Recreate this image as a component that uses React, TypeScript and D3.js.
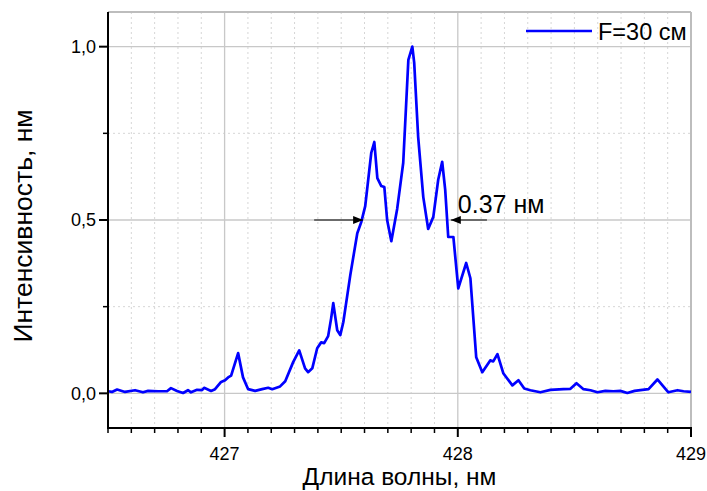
import React, { useEffect, useRef } from 'react';
import * as d3 from 'd3';

// spectrum (wavelength, nm / normalised intensity)
const wavelength = [
  426.5, 426.517, 426.539, 426.573, 426.616, 426.65, 426.672, 426.715, 426.753, 426.77,
  426.796, 426.822, 426.843, 426.856, 426.882, 426.903, 426.912, 426.942, 426.959, 426.985,
  427.002, 427.015, 427.028, 427.058, 427.079, 427.101, 427.131, 427.161, 427.187, 427.204,
  427.238, 427.26, 427.294, 427.32, 427.345, 427.358, 427.376, 427.397, 427.414, 427.427,
  427.444, 427.457, 427.466, 427.483, 427.496, 427.509, 427.539, 427.569, 427.586, 427.603,
  427.629, 427.642, 427.655, 427.672, 427.685, 427.697, 427.715, 427.74, 427.766, 427.788,
  427.805, 427.813, 427.83, 427.852, 427.873, 427.895, 427.916, 427.933, 427.946, 427.959,
  427.981, 428.002, 428.036, 428.054, 428.079, 428.105, 428.139, 428.152, 428.17, 428.195,
  428.234, 428.26, 428.285, 428.311, 428.354, 428.397, 428.453, 428.483, 428.509, 428.539,
  428.569, 428.599, 428.633, 428.667, 428.697, 428.727, 428.758, 428.783, 428.818, 428.856,
  428.903, 428.942, 428.968, 429.0,
];
const intensity = [
  0.006, 0.004, 0.011, 0.004, 0.009, 0.003, 0.007, 0.006, 0.006, 0.015,
  0.007, 0.001, 0.009, 0.003, 0.01, 0.009, 0.016, 0.007, 0.012, 0.033,
  0.038, 0.046, 0.051, 0.116, 0.046, 0.012, 0.007, 0.012, 0.016, 0.012,
  0.02, 0.035, 0.09, 0.124, 0.072, 0.061, 0.072, 0.13, 0.147, 0.145,
  0.165, 0.217, 0.26, 0.182, 0.168, 0.205, 0.341, 0.462, 0.494, 0.54,
  0.694, 0.725, 0.621, 0.598, 0.595, 0.5, 0.439, 0.532, 0.665, 0.962,
  1.0, 0.954, 0.74, 0.566, 0.474, 0.509, 0.616, 0.668, 0.587, 0.451,
  0.451, 0.303, 0.376, 0.332, 0.104, 0.061, 0.095, 0.092, 0.113, 0.058,
  0.023, 0.038, 0.014, 0.009, 0.003, 0.01, 0.012, 0.013, 0.029, 0.012,
  0.009, 0.003, 0.007, 0.006, 0.007, 0.001, 0.007, 0.009, 0.012, 0.04,
  0.003, 0.009, 0.006, 0.004,
];

const xMajor = [427, 428, 429];
const yMajor = [0, 0.5, 1.0];
const yMinor = [0.25, 0.75];
const seriesName = 'F=30 см';
const fwhmLeft = 427.594;
const fwhmWidth = 0.376;
const fwhmLabel = '0.37 нм';

const W = 707;
const H = 491;
const margin = { top: 12, right: 16, bottom: 63, left: 108 };
const FONT = '"Liberation Sans", Arial, sans-serif';

export default function App() {
  const ref = useRef<SVGSVGElement>(null);

  useEffect(() => {
    const svg = d3.select(ref.current);
    svg.selectAll('*').remove();

    const x0 = margin.left;
    const x1 = W - margin.right;
    const y0 = margin.top;
    const y1 = H - margin.bottom;

    const x = d3.scaleLinear().domain([426.5, 429]).range([x0, x1]);
    const y = d3.scaleLinear().domain([-0.1, 1.1]).range([y1, y0]);

    const xMinor = d3.range(4265, 4291).map((v) => v / 10).filter((v) => !xMajor.some((m) => Math.abs(m - v) < 1e-6));

    svg
      .append('defs')
      .append('marker')
      .attr('id', 'arrow')
      .attr('viewBox', '0 0 10 8')
      .attr('refX', 10)
      .attr('refY', 4)
      .attr('markerWidth', 13)
      .attr('markerHeight', 8)
      .attr('markerUnits', 'userSpaceOnUse')
      .attr('orient', 'auto')
      .append('path')
      .attr('d', 'M0,0L10,4L0,8Z')
      .attr('fill', '#000');

    const grid = svg.append('g');
    // minor grid, dotted
    grid
      .selectAll('line.vx')
      .data(xMinor)
      .join('line')
      .attr('x1', (d) => x(d))
      .attr('x2', (d) => x(d))
      .attr('y1', y0)
      .attr('y2', y1)
      .attr('stroke', '#d6d6d6')
      .attr('stroke-width', 1)
      .attr('stroke-dasharray', '2,3');
    grid
      .selectAll('line.hy')
      .data(yMinor)
      .join('line')
      .attr('x1', x0)
      .attr('x2', x1)
      .attr('y1', (d) => y(d))
      .attr('y2', (d) => y(d))
      .attr('stroke', '#d6d6d6')
      .attr('stroke-width', 1)
      .attr('stroke-dasharray', '2,3');
    // major grid
    const maj = svg.append('g').attr('stroke', '#c8c8c8').attr('stroke-width', 1.3);
    xMajor.forEach((v) => maj.append('line').attr('x1', x(v)).attr('x2', x(v)).attr('y1', y0).attr('y2', y1));
    yMajor.forEach((v) => maj.append('line').attr('x1', x0).attr('x2', x1).attr('y1', y(v)).attr('y2', y(v)));
    // top / right frame
    maj.append('line').attr('x1', x0).attr('x2', x1).attr('y1', y0).attr('y2', y0).attr('stroke', '#bdbdbd').attr('stroke-width', 2);
    maj.append('line').attr('x1', x1).attr('x2', x1).attr('y1', y0).attr('y2', y1).attr('stroke', '#bdbdbd').attr('stroke-width', 2);

    // spectrum
    const pts: [number, number][] = wavelength.map((w, i) => [w, intensity[i]]);
    svg
      .append('path')
      .datum(pts)
      .attr('fill', 'none')
      .attr('stroke', '#0000ff')
      .attr('stroke-width', 2.7)
      .attr('stroke-linejoin', 'round')
      .attr(
        'd',
        d3
          .line<[number, number]>()
          .x((d) => x(d[0]))
          .y((d) => y(d[1]))
      );

    // axes
    const ax = svg.append('g').attr('stroke', '#000');
    ax.append('line').attr('x1', x0).attr('x2', x0).attr('y1', y0).attr('y2', y1 + 1).attr('stroke-width', 2);
    ax.append('line').attr('x1', x0 - 1).attr('x2', x1 + 1).attr('y1', y1).attr('y2', y1).attr('stroke-width', 2);
    xMinor.forEach((v) =>
      ax.append('line').attr('x1', x(v)).attr('x2', x(v)).attr('y1', y1).attr('y2', y1 + 5).attr('stroke-width', 1.5)
    );
    xMajor.forEach((v) =>
      ax.append('line').attr('x1', x(v)).attr('x2', x(v)).attr('y1', y1).attr('y2', y1 + 9).attr('stroke-width', 2)
    );
    yMinor.forEach((v) =>
      ax.append('line').attr('x1', x0 - 5).attr('x2', x0).attr('y1', y(v)).attr('y2', y(v)).attr('stroke-width', 1.5)
    );
    yMajor.forEach((v) =>
      ax.append('line').attr('x1', x0 - 9).attr('x2', x0).attr('y1', y(v)).attr('y2', y(v)).attr('stroke-width', 2)
    );

    const txt = svg.append('g').attr('font-family', FONT).attr('fill', '#000');
    xMajor.forEach((v) =>
      txt
        .append('text')
        .attr('x', x(v))
        .attr('y', y1 + 32)
        .attr('text-anchor', 'middle')
        .attr('font-size', 18)
        .text(d3.format('d')(v))
    );
    yMajor.forEach((v) =>
      txt
        .append('text')
        .attr('x', x0 - 12)
        .attr('y', y(v))
        .attr('dy', '0.36em')
        .attr('text-anchor', 'end')
        .attr('font-size', 18)
        .text(d3.format('.1f')(v).replace('.', ','))
    );

    txt
      .append('text')
      .attr('x', (x0 + x1) / 2)
      .attr('y', H - 6)
      .attr('text-anchor', 'middle')
      .attr('font-size', 24.5)
      .text('Длина волны, нм');
    txt
      .append('text')
      .attr('transform', `translate(32,${(y0 + y1) / 2 + 6}) rotate(-90)`)
      .attr('text-anchor', 'middle')
      .attr('font-size', 26.5)
      .text('Интенсивность, нм');

    // legend
    svg
      .append('line')
      .attr('x1', 526)
      .attr('x2', 592)
      .attr('y1', 31)
      .attr('y2', 31)
      .attr('stroke', '#0000ff')
      .attr('stroke-width', 2.7);
    txt.append('text').attr('x', 598).attr('y', 40).attr('font-size', 23.5).text(seriesName);

    // FWHM arrows
    const yHalf = y(0.5);
    const ann = svg.append('g').attr('stroke', '#000').attr('stroke-width', 1);
    ann
      .append('line')
      .attr('x1', x(fwhmLeft - 0.21))
      .attr('x2', x(fwhmLeft))
      .attr('y1', yHalf)
      .attr('y2', yHalf)
      .attr('marker-end', 'url(#arrow)');
    ann
      .append('line')
      .attr('x1', x(fwhmLeft + fwhmWidth + 0.155))
      .attr('x2', x(fwhmLeft + fwhmWidth))
      .attr('y1', yHalf)
      .attr('y2', yHalf)
      .attr('marker-end', 'url(#arrow)');
    txt
      .append('text')
      .attr('x', x(fwhmLeft + fwhmWidth) + 7)
      .attr('y', yHalf - 7)
      .attr('font-size', 25)
      .text(fwhmLabel);
  }, []);

  return (
    <div>
      <svg ref={ref} width={W} height={H} style={{ position: 'absolute', left: 0, top: 0, background: '#fff' }} />
    </div>
  );
}
